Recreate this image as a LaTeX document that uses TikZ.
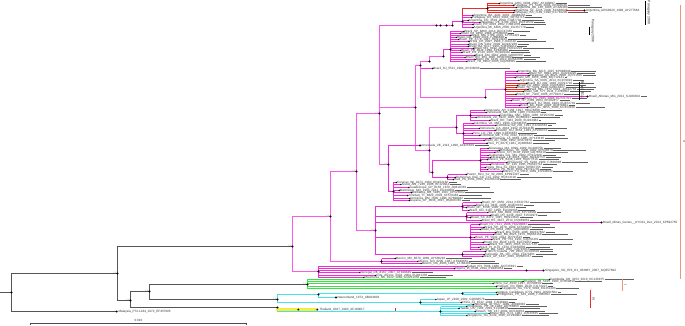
\documentclass[tikz,border=0pt]{standalone}
\usepackage{fontspec}
\setmainfont{Liberation Sans}
\newfontfamily\lblf{Liberation Sans}
\definecolor{magD}{RGB}{242,45,215}
\definecolor{magL}{RGB}{250,90,230}
\definecolor{gclr}{RGB}{60,225,70}
\definecolor{cclr}{RGB}{70,225,235}
\definecolor{yclr}{RGB}{250,235,60}
\definecolor{rclr}{RGB}{235,45,40}
\definecolor{oclr}{RGB}{238,150,120}
\definecolor{trunk}{RGB}{85,85,85}
\tikzset{
 gt/.style={draw=trunk, line width=0.8pt},
 ml/.style={draw=magD, line width=0.9pt},
 bbl/.style={draw=magL, line width=1pt},
 rl/.style={draw=rclr, line width=0.9pt},
 gl/.style={draw=gclr, line width=1.1pt},
 cl/.style={draw=cclr, line width=1pt},
 yl/.style={draw=yclr, line width=2.4pt},
 lbl/.style={anchor=west, inner sep=0.5pt, font=\lblf\fontsize{3.1}{3.4}\selectfont, text=black!80},
 sv/.style={inner sep=0.2pt, font=\lblf\fontsize{2}{2.2}\selectfont, text=black!35},
 barl/.style={draw=black!62, line width=1pt},
 gbar/.style={line width=1.5pt},
 rot/.style={rotate=-90, inner sep=0.5pt, font=\lblf\fontsize{3.4}{3.8}\selectfont, text=black!85},
}
\pgfmathdeclarerandomlist{acc}{{AY}{KP}{JQ}{FJ}{EU}{GQ}{KC}{HQ}{KF}{DQ}}
\newcommand\lgrp[8]{%
  \foreach \Lnm [count=\i] in {#8}{%
    \pgfmathsetmacro\Ly{floor(#2+(\i-1)*#3)+0.5}%
    \pgfmathsetmacro\Lx{#4+rnd*(#5-#4)}%
    \pgfmathsetmacro\Lb{2+rnd*33}%
    \pgfmathrandominteger{\Ls}{11}{9899}%
    \pgfmathrandominteger{\Lyr}{1977}{2014}%
    \pgfmathrandominteger{\Lac}{100000}{999999}%
    \pgfmathrandomitem{\Lpre}{acc}%
    \coordinate (#7\i) at (\Lx,\Ly);
    \draw[#6] (#1,#2) -- (#1,\Ly) -- (#7\i);
    \node[lbl] (#7\i-l) at (#7\i) {\Lnm\_\Ls\_\Lyr\_\Lpre\Lac};
    \draw[barl] (#7\i-l.east) -- ++(\Lb,0);
    \fill[black] (#7\i) circle (0.8);
  }}
\newcommand\tdot[1]{\fill[black] (#1) circle (1.05);}
\begin{document}
\begin{tikzpicture}[x=1pt,y=-1pt]
\pgfmathsetseed{2718}
\coordinate (BB1) at (0,0); \coordinate (BB2) at (685,325);
\fill[white] (BB1) rectangle (BB2);
\useasboundingbox (BB1) rectangle (BB2);

% ---------- coordinates ----------
\coordinate (R0) at (0,292.5);
\coordinate (R) at (11.5,292.5);
\coordinate (N1) at (117.5,273.5);
\coordinate (Mal) at (116.7,311.5);
\coordinate (V) at (292.5,246.5);
\coordinate (N2) at (130.5,300.5);
\coordinate (N3) at (149.5,291.5);
\coordinate (Y) at (277.5,307.5);
\coordinate (G) at (307.5,284.5);
\coordinate (C) at (277.5,299.5);
\coordinate (M1) at (330.5,216.5);
\coordinate (MH) at (318.5,271.5);
\coordinate (M3) at (356.5,171.5);
\coordinate (MX) at (381.5,261.5);
\coordinate (M5) at (379.5,113.5);
\coordinate (M6) at (375.5,230.5);
\coordinate (MA) at (436.5,25.5);
\coordinate (MA1) at (440.5,25.5);
\coordinate (MA2) at (446.5,25.5);
\coordinate (MA3) at (452.5,25.5);
\coordinate (M8) at (415.5,107.5);
\coordinate (M10) at (388.5,164.5);
\coordinate (MB0) at (420.5,65.5);
\coordinate (MB1) at (429.5,61.5);
\coordinate (MB2) at (443.5,56.5);
\coordinate (cB) at (450.5,49.5);
\coordinate (MC0) at (485.5,97.5);
\coordinate (cC) at (505.5,89.5);
\coordinate (cCt) at (505.5,71.5);
\coordinate (cCb) at (505.5,107.5);
\coordinate (M9) at (429.5,150.5);
\coordinate (MD) at (456.5,127.5);
\coordinate (ME) at (432.5,172.5);
\coordinate (cD1) at (470.5,115.5);
\coordinate (cD2) at (463.5,133.5);
\coordinate (cE1) at (480.5,160.5);
\coordinate (cE2) at (447.5,177.5);
\coordinate (cF) at (393.5,191.5);
\coordinate (Lm10) at (420,145.5);
\coordinate (cG1) at (462.5,206.5);
\coordinate (cG2) at (466.5,216.5);
\coordinate (cG3) at (470.5,237.5);
\coordinate (cG4) at (462.5,254.5);
\coordinate (cA2) at (462.5,21.5);
\coordinate (cA2t) at (462.5,15.5);
\coordinate (cA1) at (487.5,8.5);
\coordinate (MHt) at (318.5,266.5);
\coordinate (MHb) at (318.5,277.5);
\coordinate (Sg1) at (526.5,270.5);
\coordinate (Sg2) at (543.5,270.5);
\coordinate (Alf) at (587.5,96.5);
\coordinate (Min) at (601.5,222.5);
\coordinate (MinB) at (590,222.5);
\coordinate (ArgB) at (566,10.5);
\coordinate (ArgT) at (584.5,10.5);

% ---------- trunk ----------
\draw[gt] (R0) -- (R);
\draw[gt] (R) |- (N1); \draw[gt] (R) |- (Mal);
\draw[gt] (N1) |- (V); \draw[gt] (N1) |- (N2);
\draw[gt] (N2) |- (N3); \draw[gt] (N2) |- (Y);
\draw[gt] (N3) |- (G); \draw[gt] (N3) |- (C);

% ---------- magenta clade: leaf groups ----------
\draw[ml] (cCt) -- (cCb);
\draw[ml] (MHt) -- (MHb);
\lgrp{487.5}{3.2}{2.4}{492}{518}{rl}{r}{Argentina\_ARG,Paraguay\_PY,Argentina\_BA,Argentina\_SF,Paraguay\_AS}
\lgrp{462.5}{15.5}{2.3}{467}{484}{ml}{a}{Argentina\_BA,Paraguay\_AS,Argentina\_CO,Paraguay\_CE,Brazil\_PR,Argentina\_MI}
\lgrp{450.5}{31}{2.2}{455}{476}{ml}{b}{Brazil\_SP,Brazil\_RJ,Brazil\_MG,Brazil\_GO,Brazil\_PE,Brazil\_CE,Brazil\_RN,Brazil\_BA,Brazil\_MS,Brazil\_PR,Brazil\_ES,Brazil\_AM,Brazil\_RO,Brazil\_PA,Brazil\_TO}
\lgrp{420.5}{68.3}{0}{431}{435}{ml}{bz}{Brazil\_RJ}
\lgrp{505.5}{71}{2.3}{510}{530}{ml}{c}{Argentina\_BA,Brazil\_SP,Paraguay\_AS,Brazil\_MS,Argentina\_SA}
\lgrp{505.5}{83.5}{2.1}{512}{528}{rl}{d}{Brazil\_RJ,Brazil\_RJ,Brazil\_SP,Brazil\_MG,Brazil\_GO,Brazil\_DF}
\lgrp{505.5}{98.6}{2.2}{510}{528}{ml}{e}{Brazil\_PE,Brazil\_SP,Brazil\_RJ,Brazil\_BA,Brazil\_AL}
\lgrp{470.5}{110}{2.6}{476}{503}{ml}{f}{Venezuela\_AR,Venezuela\_MA,Colombia\_ANT,Venezuela\_ZU,Brazil\_RR}
\lgrp{463.5}{123}{2.5}{468}{500}{ml}{g}{Colombia\_VA,Colombia\_SA,Venezuela\_CA,Ecuador\_GU,Peru\_LO,Colombia\_ME,Venezuela\_LA,Brazil\_AC,Peru\_PI}
\lgrp{480.5}{148}{2.4}{485}{510}{ml}{h}{Nicaragua\_MA,Honduras\_TE,Mexico\_CH,Guatemala\_GU,Nicaragua\_LE,Mexico\_VE,ElSalvador\_SS,Honduras\_SP,Costa\_Rica\_SJ,Panama\_PA,Mexico\_YU}
\lgrp{447.5}{174.5}{2.5}{452}{470}{ml}{i}{Puerto\_Rico\_SJ,Dominican\_Rep\_SD,Haiti\_PA}
\lgrp{393.5}{182}{2.7}{396}{414}{ml}{j}{Curacao\_WI,Aruba\_AW,Guadeloupe\_GP,Martinique\_MQ,Barbados\_BB,Trinidad\_TT,Dominica\_DM,Guyana\_GY}
\lgrp{462.5}{202.5}{2.5}{466}{490}{ml}{k}{Brazil\_SP,Brazil\_RJ,Brazil\_MT,Brazil\_GO}
\lgrp{466.5}{212.5}{2.5}{470}{492}{ml}{l}{Brazil\_MG,Brazil\_PR,Brazil\_SC,Brazil\_RS}
\lgrp{470.5}{224.5}{2.5}{474}{500}{ml}{m}{Brazil\_RJ,Brazil\_SP,Brazil\_ES,Brazil\_MG,Brazil\_BA,Brazil\_PE,Brazil\_PB,Brazil\_RN,Brazil\_CE,Brazil\_PI,Brazil\_MA}
\lgrp{462.5}{251.5}{2.5}{466}{486}{ml}{n}{French\_Guiana,Suriname\_PA,Brazil\_AP}
\lgrp{381.5}{258.5}{2.5}{388}{436}{ml}{o}{Mexico\_MX,Mexico\_GR,Mexico\_OA}
\lgrp{318.5}{266}{2.3}{430}{470}{ml}{p}{Sudan\_KH,Nigeria\_IB}
\lgrp{318.5}{272.9}{2.3}{355}{392}{ml}{pp}{Senegal\_DK,Cote\_dIvoire,Mauritania\_NK}

% ---------- green clade ----------
\lgrp{307.5}{279.3}{2.3}{460}{550}{gl}{q}{Cambodia\_KH,Thailand\_TH,China\_GZ,Vietnam\_VN,Singapore\_SG}

% ---------- cyan & yellow clades ----------
\coordinate (Ca) at (318.5,294.5);
\coordinate (cCa2) at (462.5,293.5);
\coordinate (Nau) at (336,297.5);
\coordinate (cCb) at (420.5,302.5);
\coordinate (cCc) at (440.5,311.5);
\coordinate (Yd) at (298.3,309.5);
\coordinate (Yt) at (317.3,309.5);
\coordinate (rt1) at (395.5,307.6);
\coordinate (rt2) at (395.5,310.8);
\draw[cl] (C) |- (Ca); \draw[cl] (C) |- (cCb);
\draw[cl] (Ca) |- (cCa2); \draw[cl] (Ca) |- (Nau);
\draw[cl] (Y) |- (cCc);
\draw[yl] (Y) |- (Yt);
\draw[rl] (rt1) -- (rt2);
\lgrp{462.5}{292.3}{2.2}{470}{517}{cl}{s}{Antigua\_Caribbean,Philippines\_PH}
\lgrp{420.5}{299.7}{2.3}{430}{480}{cl}{t}{Japan\_JP,China\_ZJ,Indonesia\_ID}
\lgrp{440.5}{306.5}{2.3}{448}{505}{cl}{u}{Philippines\_PH,Hawaii\_US,Taiwan\_TW,Brunei\_BN,Singapore\_SG}

% ---------- magenta backbone (drawn last among lines) ----------
\begin{scope}[color=magL]
\draw[bbl] (V) |- (M1); \draw[bbl] (V) |- (MH);
\draw[bbl] (M1) |- (M3); \draw[bbl] (M1) |- (MX);
\draw[bbl] (M3) |- (M5); \draw[bbl] (M3) |- (M6);
\draw[bbl] (M5) |- (MA); \draw[bbl] (M5) |- (M8); \draw[bbl] (M5) |- (M10);
\draw[bbl] (MA) -- (MA3);
\draw[bbl] (M8) |- (MB0); \draw[bbl] (M8) |- (M9);
\draw[bbl] (MB0) |- (MB1); \draw[bbl] (MB1) |- (MB2);
\draw[bbl] (MB0) |- (MC0); \draw[bbl] (MC0) |- (cC);
\draw[bbl] (M9) |- (MD); \draw[bbl] (M9) |- (ME);
\end{scope}
\draw[ml] (MA3) |- (cA2);
\draw[rl] (cA2t) |- (cA1);
\draw[ml] (MB2) |- (cB);
\draw[ml] (cC) |- (Alf);
\draw[ml] (MD) |- (cD1); \draw[ml] (MD) |- (cD2);
\draw[ml] (ME) |- (cE1); \draw[ml] (ME) |- (cE2);
\draw[ml] (M10) |- (cF); \draw[ml] (M10) |- (Lm10);
\draw[ml] (M6) |- (cG1); \draw[ml] (M6) |- (cG2);
\draw[ml] (M6) |- (cG3); \draw[ml] (M6) |- (cG4);
\draw[ml] (M6) |- (Min);
\draw[ml, line width=1.2pt] (MinB) -- (Min);
\draw[ml] (MH) |- (Sg2);
\draw[ml, line width=1.4pt] (Sg1) -- (Sg2);
\draw[rl] (ArgB) -- (ArgT);

% ---------- special leaf labels ----------
\node[lbl] (MalL) at ([xshift=1.2pt]Mal) {Malaysia\_P72-1244\_1972\_EF457905};
\node[lbl] (ArgL) at ([xshift=1pt]ArgT) {Argentina\_ARG9920\_1998\_AY277664};
\node[lbl] (AlfL) at ([xshift=1pt]Alf) {Brazil\_Alfenas\_MG\_2012\_KJ189304};
\node[lbl] (MinL) at ([xshift=1pt]Min) {Brazil\_Minas\_Gerais\_\_UYD41\_Dec\_2013\_KP692765};
\node[lbl] (SgL) at ([xshift=1pt]Sg2) {Singapore\_SG\_EHI\_D1\_38368Y\_2007\_GQ357692};
\node[lbl] (LmL) at (Lm10) {Venezuela\_VE\_2113\_1998\_AF425629};
\node[lbl] (NauL) at ([xshift=1pt]Nau) {NauruIsland\_1974\_AB204803};
\node[lbl] (YL) at ([xshift=1.5pt]Yt) {Thailand\_0027\_1983\_AF180817};
\draw[barl] (AlfL.east) -- ++(6,0);
\draw[barl] (LmL.east) -- ++(14,0);

% ---------- dots at internal nodes ----------
\foreach \n in {R,N1,N2,N3,V,G,C,Y,Mal,M1,MH,M3,MX,M5,M6,MA,MA1,MA2,MA3,M8,M10,MB0,MB1,MB2,cB,MC0,cC,M9,MD,ME,cD1,cD2,cE1,cE2,cF,cG1,cG2,cG3,cG4,cA2,cA1,Sg1,Sg2,Alf,Min,ArgT,Lm10,Ca,cCa2,Nau,cCb,cCc,Yd,Yt}{\tdot{\n}}
\foreach \n in {N1,N2,N3,V,M1,M3,M5,M6,M8,M9,M10,MB0,MD,ME,MH,C,G,MA,cC}{\node[sv,anchor=south east] (s\n) at (\n) {1.00};}

% ---------- genotype bars and labels ----------
\coordinate (Vb1) at (680.5,5); \coordinate (Vb2) at (680.5,279);
\draw[oclr, gbar] (Vb1) -- (Vb2);
\node[rot] (VL) at (684.3,142) {V};
\coordinate (Ib1) at (622.5,279); \coordinate (Ib2) at (622.5,290.7);
\draw[oclr, gbar] (Ib1) -- (Ib2);
\node[rot] (IL) at (625.6,285) {I};
\coordinate (IVb1) at (590.5,290); \coordinate (IVb2) at (590.5,308.3);
\draw[rclr, gbar] (IVb1) -- (IVb2);
\node[rot] (IVL) at (593.6,299.3) {IV};
\coordinate (P1a) at (645.5,0.5); \coordinate (P1b) at (645.5,25);
\draw[black, line width=1pt] (P1a) -- (P1b);
\node[rot] (P1L) at (648.6,12.5) {Paraguay 2008};
\coordinate (P2a) at (589.5,26.7); \coordinate (P2b) at (589.5,35);
\draw[black, line width=1pt] (P2a) -- (P2b);
\node[rot] (P2L) at (592.7,31) {Paraguay 2006};
\coordinate (B1a) at (579.5,81.7); \coordinate (B1b) at (579.5,100);
\draw[black, line width=1pt] (B1a) -- (B1b);
\node[rot] (B1L) at (582.7,90) {Brazil 2011};

% ---------- scale bar ----------
\coordinate (SB1) at (30.5,323.5); \coordinate (SB2) at (246.5,323.5);
\draw[black!70, line width=0.6pt] (SB1) -- (SB2);
\draw[black!70, line width=0.6pt] (SB1) ++(0,-1) -- ++(0,2);
\draw[black!70, line width=0.6pt] (SB2) ++(0,-1) -- ++(0,2);
\node[lbl, anchor=center] (SBL) at (138.5,320.4) {0.010};
\end{tikzpicture}
\end{document}
